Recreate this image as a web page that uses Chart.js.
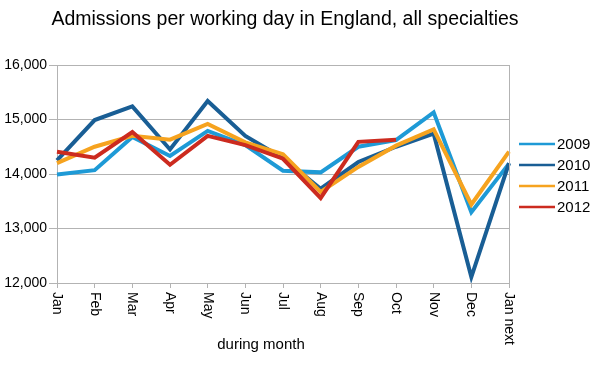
<!DOCTYPE html>
<html>
<head>
<meta charset="utf-8">
<script src="https://cdn.jsdelivr.net/npm/chart.js@4"></script>
<style>
  html, body { margin: 0; padding: 0; background: #fff; }
  #wrap { width: 596px; height: 365px; position: relative; }
</style>
</head>
<body>
<div id="wrap"><canvas id="myChart"></canvas></div>
<script>
const months = ['Jan', 'Feb', 'Mar', 'Apr', 'May', 'Jun', 'Jul', 'Aug', 'Sep', 'Oct', 'Nov', 'Dec', 'Jan next'];
const years = ['2009', '2010', '2011', '2012'];
const colours = ['#1e9ad6', '#195e95', '#f6a31f', '#cc2b1f'];

const y2009 = [13990, 14070, 14680, 14330, 14790, 14530, 14060, 14030, 14500, 14620, 15130, 13300, 14190];
const y2010 = [14250, 14990, 15240, 14450, 15340, 14700, 14290, 13730, 14220, 14500, 14740, 12110, 14200];
const y2011 = [14200, 14500, 14700, 14630, 14920, 14580, 14360, 13670, 14130, 14520, 14820, 13440, 14410];
const y2012 = [14410, 14300, 14770, 14170, 14700, 14530, 14280, 13560, 14590, 14630, null, null, null];

const yTicks = [12000, 13000, 14000, 15000, 16000];

const titleText = 'Admissions per working day in England, all specialties';
const xTitle = 'during month';

const series = [y2009, y2010, y2011, y2012];
const gridCol = '#b3b3b3';
const font = 'Liberation Sans, Arial, sans-serif';

// title, x axis title, rotated month labels, right border, legend
const extras = {
  id: 'extras',
  afterDraw(chart) {
    const c = chart.ctx;
    const a = chart.chartArea;
    const xs = chart.scales.x;
    c.save();

    // right border of plot
    c.strokeStyle = gridCol;
    c.lineWidth = 1;
    c.beginPath();
    c.moveTo(Math.round(a.right) + 0.5, a.top);
    c.lineTo(Math.round(a.right) + 0.5, a.bottom);
    c.stroke();

    c.fillStyle = '#000';
    c.font = '19.5px ' + font;
    c.textAlign = 'center';
    c.textBaseline = 'alphabetic';
    c.fillText(titleText, 285, 25);

    c.font = '15px ' + font;
    c.fillText(xTitle, 261, 349);

    // month labels turned clockwise
    c.font = '14px ' + font;
    c.textAlign = 'left';
    c.textBaseline = 'middle';
    months.forEach((m, i) => {
      const px = xs.getPixelForTick(i);
      c.save();
      c.translate(px, a.bottom + 9);
      c.rotate(Math.PI / 2);
      c.fillText(m, 0, 0);
      c.restore();
    });

    // legend
    c.font = '15px ' + font;
    chart.data.datasets.forEach((ds, i) => {
      const ly = 144 + i * 21;
      c.strokeStyle = ds.borderColor;
      c.lineWidth = 2.5;
      c.beginPath();
      c.moveTo(519, ly);
      c.lineTo(555, ly);
      c.stroke();
      c.fillStyle = '#000';
      c.textBaseline = 'middle';
      c.fillText(ds.label, 557, ly + 1);
    });
    c.restore();
  }
};

const ctx = document.getElementById('myChart');

let cc = new Chart(ctx, {
  type: 'line',
  data: {
    labels: months,
    datasets: years.map((yr, i) => ({
      label: yr,
      data: series[i],
      borderColor: colours[i],
      backgroundColor: colours[i],
      borderWidth: 4,
      pointRadius: 0,
      tension: 0,
      spanGaps: false,
      order: years.length - 1 - i
    }))
  },
  options: {
    responsive: true,
    maintainAspectRatio: false,
    animation: false,
    layout: { padding: { top: 65, right: 87, bottom: 0, left: 0 } },
    scales: {
      x: {
        offset: false,
        afterFit(scale) { scale.height = 82; },
        ticks: { display: false },
        grid: { drawOnChartArea: false, drawTicks: true, tickLength: 5, color: gridCol },
        border: { color: gridCol }
      },
      y: {
        min: 12000,
        max: 16000,
        afterFit(scale) { scale.width = 57; },
        afterBuildTicks(scale) { scale.ticks = yTicks.map(v => ({ value: v })); },
        ticks: {
          padding: 2,
          color: '#000',
          font: { family: font, size: 14 },
          callback: value => value.toLocaleString('en-US')
        },
        grid: { color: gridCol, tickLength: 8 },
        border: { color: gridCol }
      }
    },
    plugins: {
      legend: { display: false },
      title: { display: false },
      tooltip: { enabled: false }
    }
  },
  plugins: [extras]
});
</script>
</body>
</html>
